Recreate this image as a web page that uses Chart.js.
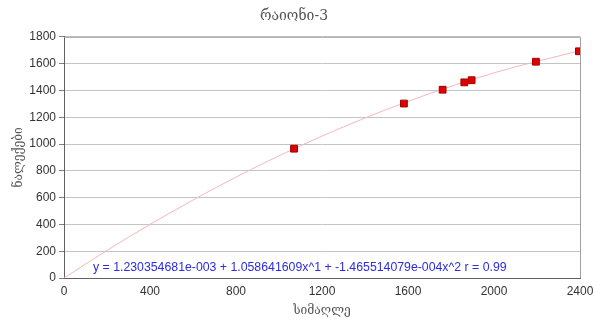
<!DOCTYPE html>
<html>
<head>
<meta charset="utf-8">
<script src="https://cdn.jsdelivr.net/npm/chart.js@4"></script>
<style>
  html, body { margin: 0; padding: 0; background: #fff; }
  #wrap { width: 596px; height: 322px; }
</style>
</head>
<body>
<div id="wrap"><canvas id="chart"></canvas></div>
<script>
// measured points
const altitude = [1070, 1581, 1761, 1862, 1896, 2195, 2395];
const precipitation = [965, 1302, 1405, 1460, 1476, 1614, 1692];

// trend curve
const trendX = [0, 200, 400, 800, 1200, 1600, 2000, 2400];
const trendY = [0, 206, 400, 753, 1059, 1318, 1531, 1697];

const xTicks = [0, 400, 800, 1200, 1600, 2000, 2400];
const yTicks = [0, 200, 400, 600, 800, 1000, 1200, 1400, 1600, 1800];

const chartTitle = 'რაიონი-3';
const xTitle = 'სიმაღლე';
const yTitle = 'ნალექები';
const equation = 'y = 1.230354681e-003 + 1.058641609x^1 + -1.465514079e-004x^2 r = 0.99';

const frame = {
  id: 'frame',
  afterDraw(chart) {
    const { ctx, chartArea: a } = chart;
    ctx.save();
    ctx.strokeStyle = '#a0a0a0';
    ctx.lineWidth = 1;
    ctx.beginPath();
    ctx.moveTo(a.left, a.top + 0.5);
    ctx.lineTo(a.right + 0.5, a.top + 0.5);
    ctx.lineTo(a.right + 0.5, a.bottom);
    ctx.stroke();
    ctx.fillStyle = '#2c2ce0';
    ctx.font = '12.3px "Liberation Sans", Arial, sans-serif';
    ctx.textBaseline = 'middle';
    ctx.fillText(equation, a.left + 29, a.bottom - 10);
    ctx.restore();
  }
};

new Chart(document.getElementById('chart'), {
  type: 'scatter',
  data: {
    datasets: [
      {
        label: 'points',
        data: altitude.map((x, i) => ({ x, y: precipitation[i] })),
        pointStyle: 'rect',
        pointRadius: 4.8,
        backgroundColor: '#e00000',
        borderColor: '#a00000',
        borderWidth: 1,
        order: 0
      },
      {
        label: 'trend',
        data: trendX.map((x, i) => ({ x, y: trendY[i] })),
        showLine: true,
        pointRadius: 0,
        borderColor: '#f4b8b8',
        borderWidth: 1,
        cubicInterpolationMode: 'monotone',
        order: 1
      }
    ]
  },
  options: {
    responsive: true,
    maintainAspectRatio: false,
    animation: false,
    layout: { padding: { top: 0, right: 16, left: 8, bottom: 0 } },
    plugins: {
      legend: { display: false },
      tooltip: { enabled: false },
      title: {
        display: true,
        text: chartTitle,
        color: '#555',
        font: { family: 'DejaVu Serif', size: 14, weight: 'normal' },
        padding: { top: 8, bottom: 12 }
      }
    },
    scales: {
      x: {
        type: 'linear',
        min: 0, max: 2400,
        afterBuildTicks: s => { s.ticks = xTicks.map(v => ({ value: v })); },
        grid: { display: false, drawTicks: false },
        border: { color: '#606060', width: 1 },
        ticks: {
          color: '#333', font: { family: 'Liberation Sans', size: 12 }, padding: 6, maxRotation: 0,
          callback: v => String(v)
        },
        title: {
          display: true, text: xTitle, color: '#555',
          font: { family: 'DejaVu Serif', size: 12 }, padding: { top: 2 }
        },
        afterFit: s => { s.height = 44; s.paddingRight = 0; }
      },
      y: {
        min: 0, max: 1800,
        afterBuildTicks: s => { s.ticks = yTicks.map(v => ({ value: v })); },
        grid: { color: '#c4c4c4', tickLength: 5, tickColor: '#808080' },
        border: { color: '#606060', width: 1 },
        ticks: {
          color: '#333', font: { family: 'Liberation Sans', size: 12 }, padding: 3,
          callback: v => String(v)
        },
        title: {
          display: true, text: yTitle, color: '#555',
          font: { family: 'DejaVu Serif', size: 12 }, padding: 4
        },
        afterFit: s => { s.width = 56; }
      }
    }
  },
  plugins: [frame]
});
</script>
</body>
</html>
